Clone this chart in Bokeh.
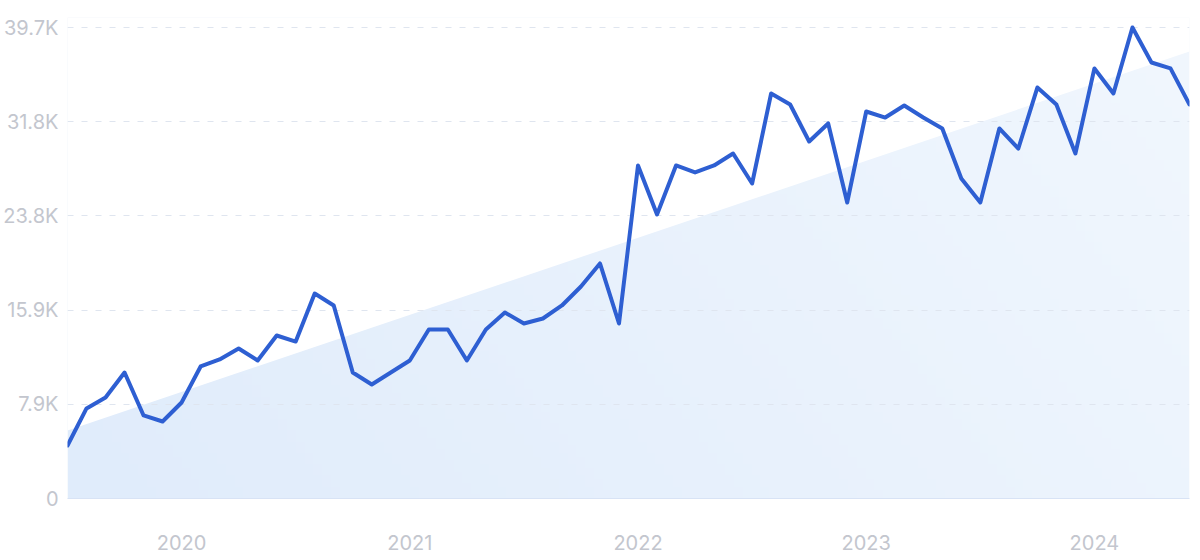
import numpy as np
from bokeh.plotting import figure
from bokeh.models import FixedTicker, Range1d
from bokeh.embed import file_html
from bokeh.resources import INLINE

# Months (Jul 2019 .. Jun 2024)
months = [f"{y}-{m:02d}" for y in range(2019, 2025) for m in range(1, 13)]
months = months[6:6 + 60]

values = [4470, 7590, 8510, 10620, 7000, 6490,
          8090, 11130, 11720, 12640, 11630, 13740,
          13230, 17280, 16270, 10620, 9610, 10620,
          11630, 14250, 14250, 11630, 14250, 15680,
          14750, 15170, 16270, 17870, 19810, 14750,
          28070, 23940, 28070, 27480, 28070, 29080,
          26550, 34140, 33210, 30090, 31610, 24950,
          32620, 32110, 33130, 32110, 31190, 26970,
          24950, 31190, 29500, 34640, 33210, 29080,
          36250, 34140, 39700, 36750, 36250, 33210]

trend_values = [5730, 37680]          # trend at first and last month
y_ticks = [0, 7940, 15880, 23820, 31760, 39700]
y_tick_labels = ["0", "7.9K", "15.9K", "23.8K", "31.8K", "39.7K"]

x = list(range(len(months)))
year_ticks = [i for i, m in enumerate(months) if m.endswith("-01")]
year_labels = [months[i][:4] for i in year_ticks]

FONT = "Inter"
LABEL_COLOR = "#c3c6ce"
Y_TOP = 40543

p = figure(width=1192, height=556, output_backend="svg", toolbar_location=None,
           min_border_left=67, min_border_right=3, min_border_top=17, min_border_bottom=58,
           x_range=Range1d(0, len(months) - 1), y_range=Range1d(0, Y_TOP))
p.outline_line_color = None
p.background_fill_color = "white"

# gradient fill for the trend area (styling only)
n = 128
gx, gy = np.meshgrid(np.linspace(0, 1, n), np.linspace(0, 1, n))
t = np.clip(0.75 * gx + 0.25 * gy, 0, 1)
c0 = np.array([224, 236, 251])
c1 = np.array([241, 247, 254])
rgb = c0[None, None, :] * (1 - t[..., None]) + c1[None, None, :] * t[..., None]
img = np.empty((n, n), dtype=np.uint32)
view = img.view(dtype=np.uint8).reshape((n, n, 4))
view[..., 0] = rgb[..., 0].astype(np.uint8)
view[..., 1] = rgb[..., 1].astype(np.uint8)
view[..., 2] = rgb[..., 2].astype(np.uint8)
view[..., 3] = 255
r_img = p.image_rgba(image=[img], x=0, y=0, dw=len(months) - 1, dh=Y_TOP)
r_img.level = "image"

# white mask above the trend line, leaving the trend area filled
r_mask = p.varea(x=[x[0], x[-1]], y1=trend_values, y2=[Y_TOP, Y_TOP],
                 fill_color="white", fill_alpha=1.0)
r_mask.level = "image"

# main line
p.line(x, values, line_color="#2e5fd2", line_width=4, line_join="round", line_cap="round")

# y axis
p.yaxis.ticker = FixedTicker(ticks=y_ticks)
p.yaxis.major_label_overrides = dict(zip(y_ticks, y_tick_labels))
p.yaxis.axis_line_color = None
p.yaxis.major_tick_line_color = None
p.yaxis.major_tick_out = 0
p.yaxis.major_tick_in = 0
p.yaxis.minor_tick_line_color = None
p.yaxis.minor_tick_out = 0
p.yaxis.major_label_text_font = FONT
p.yaxis.major_label_text_font_size = "20px"
p.yaxis.major_label_text_color = LABEL_COLOR
p.yaxis.major_label_standoff = 9

# x axis
p.xaxis.ticker = FixedTicker(ticks=year_ticks)
p.xaxis.major_label_overrides = dict(zip(year_ticks, year_labels))
p.xaxis.axis_line_color = "#d8e3f5"
p.xaxis.axis_line_width = 1
p.xaxis.major_tick_line_color = None
p.xaxis.major_tick_out = 0
p.xaxis.major_tick_in = 0
p.xaxis.minor_tick_line_color = None
p.xaxis.minor_tick_out = 0
p.xaxis.major_label_text_font = FONT
p.xaxis.major_label_text_font_size = "20px"
p.xaxis.major_label_text_color = LABEL_COLOR
p.xaxis.major_label_standoff = 36

# grid
p.xgrid.grid_line_color = None
p.ygrid.ticker = FixedTicker(ticks=y_ticks[1:])
p.ygrid.grid_line_color = "#dfe5ef"
p.ygrid.grid_line_dash = "6 8"
p.ygrid.grid_line_width = 1

open("out.html", "w").write(file_html(p, INLINE))
